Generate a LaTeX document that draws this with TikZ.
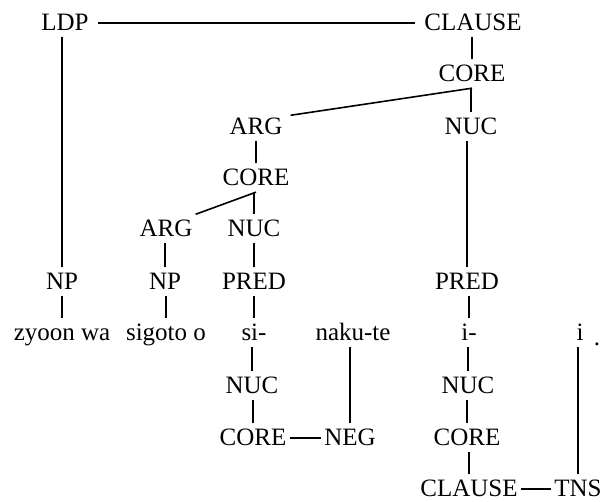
\documentclass[tikz,border=0pt]{standalone}
\usepackage{fontspec}
\setmainfont{Liberation Serif}
\begin{document}
\begin{tikzpicture}[x=1pt,y=1pt,
  lbl/.style={font=\fontsize{25}{30}\selectfont, inner xsep=3pt, inner ysep=6pt,
    text height=16.5pt, text depth=0pt, anchor=base},
  edge/.style={line width=1.6pt}]
\useasboundingbox (0,0) rectangle (604,502);
% nodes
\node[lbl] (ldp)   at (65,471)  {LDP};
\node[lbl] (clT)   at (473,471) {CLAUSE};
\node[lbl] (coreT) at (472,420) {CORE};
\node[lbl] (argA)  at (256,367) {ARG};
\node[lbl] (nucA)  at (471,367) {NUC};
\node[lbl] (coreB) at (256,316) {CORE};
\node[lbl] (argB)  at (166,265) {ARG};
\node[lbl] (nucB)  at (254,265) {NUC};
\node[lbl] (np1)   at (62,212)  {NP};
\node[lbl] (np2)   at (165,212) {NP};
\node[lbl] (pred1) at (254,212) {PRED};
\node[lbl] (pred2) at (467,212) {PRED};
\node[lbl] (w1)    at (62,161)  {zyoon wa};
\node[lbl] (w2)    at (166,161) {sigoto o};
\node[lbl] (w3)    at (254,161) {si-};
\node[lbl] (w4)    at (353,161) {naku-te};
\node[lbl] (w5)    at (469,161) {i-};
\node[lbl] (w6)    at (580,161) {i};
\node[lbl] (dot)   at (597,156) {.};
\node[lbl] (nucC)  at (252,108) {NUC};
\node[lbl] (nucD)  at (468,108) {NUC};
\node[lbl] (coreC) at (253,56)  {CORE};
\node[lbl] (neg)   at (350,56)  {NEG};
\node[lbl] (coreD) at (467,56)  {CORE};
\node[lbl] (clB)   at (469,5)   {CLAUSE};
\node[lbl] (tns)   at (578,5)   {TNS};
% connectors
\draw[edge, shorten <=6pt, shorten >=6pt] (ldp.east) -- (clT.west);
\draw[edge] (coreT.north) -- (coreT.north |- clT.south);
\draw[edge] (nucA.north) -- (nucA.north |- coreT.south);
\draw[edge] (coreT.south) -- ([shift={(5,-3)}]argA.north east);
\draw[edge] (coreB.north) -- (coreB.north |- argA.south);
\draw[edge] (nucB.north) -- (nucB.north |- coreB.south);
\draw[edge] (coreB.south) -- (argB.north east);
\draw[edge] (np1.north) -- (np1.north |- ldp.south);
\draw[edge] (pred2.north) -- (pred2.north |- nucA.south);
\draw[edge] (np2.north) -- (np2.north |- argB.south);
\draw[edge] (pred1.north) -- (pred1.north |- nucB.south);
\draw[edge] (w1.north) -- (w1.north |- np1.south);
\draw[edge] (w2.north) -- (w2.north |- np2.south);
\draw[edge] (w3.north) -- (w3.north |- pred1.south);
\draw[edge] (w5.north) -- (w5.north |- pred2.south);
\draw[edge] (nucC.north) -- (nucC.north |- w3.south);
\draw[edge] (coreC.north) -- (coreC.north |- nucC.south);
\draw[edge] (coreC.east) -- (neg.west);
\draw[edge] (neg.north) -- (neg.north |- w4.south);
\draw[edge] (nucD.north) -- (nucD.north |- w5.south);
\draw[edge] (coreD.north) -- (coreD.north |- nucD.south);
\draw[edge] (clB.north) -- (clB.north |- coreD.south);
\draw[edge] (clB.east) -- (tns.west);
\draw[edge] (tns.north) -- (tns.north |- w6.south);
\end{tikzpicture}
\end{document}
